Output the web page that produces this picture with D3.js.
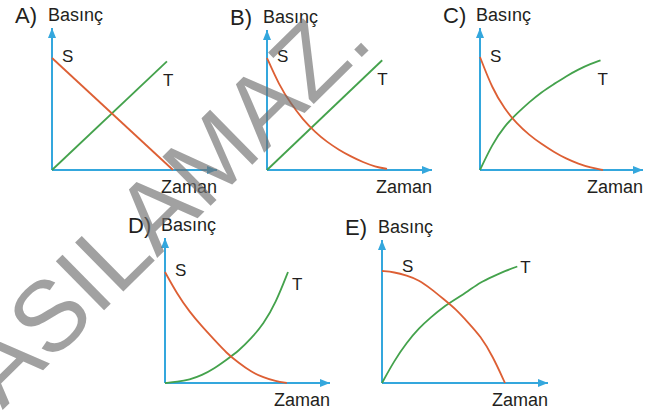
<!DOCTYPE html>
<html>
<head>
<meta charset="utf-8">
<script src="https://cdn.jsdelivr.net/npm/d3@7"></script>
<style>
  body { margin: 0; background: #fff; }
  text { font-family: "Liberation Sans", Arial, sans-serif; fill: #231f20; }
</style>
</head>
<body>
<div id="chart"></div>
<script>
// data (time / pressure in arbitrary units)
var panelNames = ["A", "B", "C", "D", "E"];
var yLabel = "Basınç", xLabel = "Zaman";
var sName = "S", tName = "T";

var sxA = [0, 10];
var syA = [10, 0];
var txA = [0, 9.5];
var tyA = [0, 9.7];

var sxB = [0, 1, 2, 3, 4, 5, 6, 7, 8, 9, 10];
var syB = [10, 7.6, 5.9, 4.5, 3.4, 2.5, 1.8, 1.2, 0.7, 0.3, 0.1];
var txB = [0, 9.6];
var tyB = [0, 9.8];

var sxC = [0, 1, 2, 3, 4, 5, 6, 7, 8, 9, 10];
var syC = [10, 7.2, 5.4, 4.1, 3.1, 2.3, 1.6, 1.0, 0.55, 0.2, 0];
var txC = [0, 1, 2, 3, 4, 5, 6, 7, 8, 9, 9.8];
var tyC = [0, 2.3, 3.9, 5.0, 6.0, 6.9, 7.6, 8.3, 8.9, 9.4, 9.7];

var sxD = [0, 1, 2, 3, 4, 5, 6, 7, 8, 9, 9.9];
var syD = [10, 8.0, 6.4, 5.1, 3.9, 2.7, 1.8, 1.0, 0.5, 0.15, 0];
var txD = [0, 1, 2, 3, 4, 5, 6, 7, 8, 9, 10];
var tyD = [0, 0.1, 0.3, 0.7, 1.3, 2.1, 2.9, 4.0, 5.3, 7.2, 10];

var sxE = [0, 1, 2, 3, 4, 5, 6, 7, 8, 9, 10];
var syE = [10, 9.9, 9.6, 9.2, 8.4, 7.5, 6.6, 5.4, 4.2, 2.4, 0];
var txE = [0, 1, 2, 3, 4, 5, 6, 7, 8, 9, 10, 11];
var tyE = [0, 2.0, 3.6, 4.9, 5.9, 6.8, 7.5, 8.2, 9.0, 9.5, 10.0, 10.4];

var watermark = "BASILAMAZ.";

// layout (pixels): origin, plot size for 10 units, axis lengths, label offsets
var layout = {
  A: {ox: 52,  oy: 170, w: 121, h: 112, axW: 165, axH: 142, sOff: [10, 4], tOff: [-4, 25]},
  B: {ox: 267, oy: 170, w: 120, h: 112, axW: 165, axH: 140, sOff: [10, 4], tOff: [-5, 25]},
  C: {ox: 480, oy: 170, w: 123, h: 113, axW: 163, axH: 142, sOff: [10, 5], tOff: [-3, 25]},
  D: {ox: 165, oy: 383, w: 123, h: 111, axW: 165, axH: 145, sOff: [10, 4], tOff: [4, 18]},
  E: {ox: 382, oy: 383, w: 123, h: 112, axW: 166, axH: 143, sOff: [20, 1], tOff: [3, 6]}
};

var series = {
  A: {sx: sxA, sy: syA, tx: txA, ty: tyA},
  B: {sx: sxB, sy: syB, tx: txB, ty: tyB},
  C: {sx: sxC, sy: syC, tx: txC, ty: tyC},
  D: {sx: sxD, sy: syD, tx: txD, ty: tyD},
  E: {sx: sxE, sy: syE, tx: txE, ty: tyE}
};

var width = 663, height = 411;
var axisColor = "#34a7dd", sColor = "#dd5f34", tColor = "#44a24c";

var svg = d3.select("#chart").append("svg")
    .attr("width", width)
    .attr("height", height);

svg.append("defs").append("marker")
    .attr("id", "arrow")
    .attr("markerUnits", "userSpaceOnUse")
    .attr("markerWidth", 12)
    .attr("markerHeight", 10)
    .attr("refX", 10)
    .attr("refY", 4)
    .attr("orient", "auto")
  .append("path")
    .attr("d", "M0,0L10,4L0,8Z")
    .attr("fill", axisColor);

var zip = function (xs, ys) {
  return xs.map(function (x, i) { return [x, ys[i]]; });
};

panelNames.forEach(function (name) {
  var L = layout[name], d = series[name];

  var x = d3.scaleLinear().domain([0, 10]).range([L.ox, L.ox + L.w]);
  var y = d3.scaleLinear().domain([0, 10]).range([L.oy, L.oy - L.h]);

  var g = svg.append("g").attr("class", "panel-" + name);

  // axes: plain lines with arrow heads
  g.append("line")
      .attr("x1", x(0)).attr("y1", y(0))
      .attr("x2", L.ox + L.axW).attr("y2", y(0))
      .attr("stroke", axisColor).attr("stroke-width", 2)
      .attr("marker-end", "url(#arrow)");
  g.append("line")
      .attr("x1", x(0)).attr("y1", y(0))
      .attr("x2", x(0)).attr("y2", L.oy - L.axH)
      .attr("stroke", axisColor).attr("stroke-width", 2)
      .attr("marker-end", "url(#arrow)");

  var line = d3.line()
      .x(function (p) { return x(p[0]); })
      .y(function (p) { return y(p[1]); })
      .curve(d3.curveBasis);

  var sPts = zip(d.sx, d.sy), tPts = zip(d.tx, d.ty);

  g.append("path")
      .attr("d", line(tPts))
      .attr("fill", "none")
      .attr("stroke", tColor)
      .attr("stroke-width", 1.8);
  g.append("path")
      .attr("d", line(sPts))
      .attr("fill", "none")
      .attr("stroke", sColor)
      .attr("stroke-width", 1.8);

  // S / T labels
  var s0 = sPts[0], tN = tPts[tPts.length - 1];
  g.append("text")
      .attr("x", x(s0[0]) + L.sOff[0])
      .attr("y", y(s0[1]) + L.sOff[1])
      .attr("font-size", 17)
      .text(sName);
  g.append("text")
      .attr("x", x(tN[0]) + L.tOff[0])
      .attr("y", y(tN[1]) + L.tOff[1])
      .attr("font-size", 17)
      .text(tName);

  // titles
  g.append("text")
      .attr("x", L.ox - 37)
      .attr("y", L.oy - L.axH - 5)
      .attr("font-size", 22)
      .text(name + ")");
  g.append("text")
      .attr("x", L.ox - 4)
      .attr("y", L.oy - L.axH - 7)
      .attr("font-size", 18)
      .text(yLabel);
  g.append("text")
      .attr("x", L.ox + L.axW)
      .attr("y", L.oy + 23)
      .attr("text-anchor", "end")
      .attr("font-size", 18)
      .text(xLabel);
});

// watermark across the figure
svg.append("text")
    .attr("transform", "translate(375,44) rotate(-44.5)")
    .attr("text-anchor", "end")
    .attr("font-size", 100)
    .style("fill", "#6e6e6e")
    .style("fill-opacity", 0.65)
    .text(watermark);
</script>
</body>
</html>
